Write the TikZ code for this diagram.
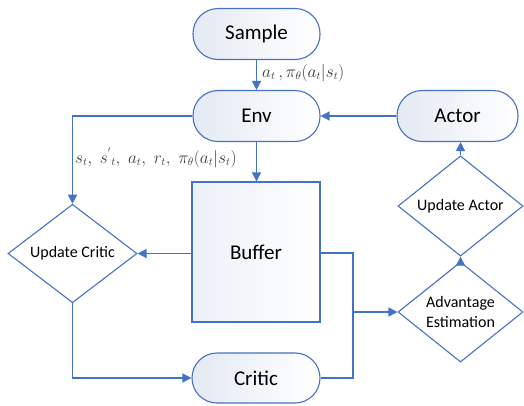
\documentclass[tikz,border=0pt]{standalone}
\usepackage{fontspec}
\setmainfont{Carlito}
\usetikzlibrary{shapes.geometric,arrows.meta}
\definecolor{lblue}{RGB}{68,114,196}
\definecolor{nfill}{RGB}{228,233,243}
\definecolor{bfill}{RGB}{236,240,248}
\definecolor{lbl}{RGB}{60,60,60}
\tikzset{
  pill/.style={draw=lblue,line width=1.1pt,rounded corners=25pt,left color=nfill,right color=white,minimum height=51pt,font=\fontsize{21}{24}\selectfont,text=black},
  bufbox/.style={draw=lblue,line width=1.1pt,left color=bfill,right color=white,font=\fontsize{21}{24}\selectfont,text=black},
  dia/.style={draw=lblue,line width=1.1pt,diamond,fill=white,inner sep=0pt,font=\fontsize{16}{20}\selectfont,align=center,text=black},
  conn/.style={draw=lblue,line width=1.3pt},
  arr/.style={conn,-{Triangle[length=9pt,width=9pt]}},
  mlabel/.style={text=lbl,inner sep=0pt,font=\fontsize{16}{18}\selectfont}
}
\begin{document}
\begin{tikzpicture}[x=1pt,y=-1pt]
\useasboundingbox (0,0) rectangle (524,405);
\node[pill,minimum width=127pt] (sample) at (256.5,34) {Sample};
\node[pill,minimum width=127pt] (env) at (256.5,116) {Env};
\node[pill,minimum width=121pt] (actor) at (457.5,116) {Actor};
\node[bufbox,minimum width=128pt,minimum height=140pt] (buffer) at (256,252) {Buffer};
\node[pill,minimum width=128pt,minimum height=50pt] (critic) at (256,378) {Critic};
\node[dia,minimum width=129pt,minimum height=77pt] (uc) at (72.5,253.5) {Update Critic};
\node[dia,minimum width=125pt,minimum height=76pt] (ua) at (460.5,206) {Update Actor};
\node[dia,minimum width=125pt,minimum height=76pt] (ae) at (460.5,312) {Advantage\\Estimation};
\coordinate (jt) at (353,253);
\draw[arr] (sample) -- (env);
\node[mlabel,anchor=west] (l1) at (262,73) {$a_t\,,\pi_\theta(a_t|s_t)$};
\draw[arr] (actor) -- (env);
\draw[arr] (env.west) -| (uc.north);
\draw[arr] (env.south) -- (env.south |- buffer.north);
\node[mlabel,anchor=west] (l2) at (75,158) {$s_t,\; s^{'}{}_{t},\; a_t,\; r_t,\; \pi_\theta(a_t|s_t)$};
\draw[arr] (buffer.west |- uc.east) -- (uc.east);
\draw[arr] (uc.south) |- (critic.west);
\draw[conn] (buffer.east |- jt) -- (jt) -- (jt |- critic.east) -- (critic.east);
\draw[arr] (jt |- ae.west) -- (ae.west);
\draw[arr] (ae.north) -- (ua.south);
\draw[arr] (ua.north) -- (ua.north |- actor.south);
\end{tikzpicture}
\end{document}
